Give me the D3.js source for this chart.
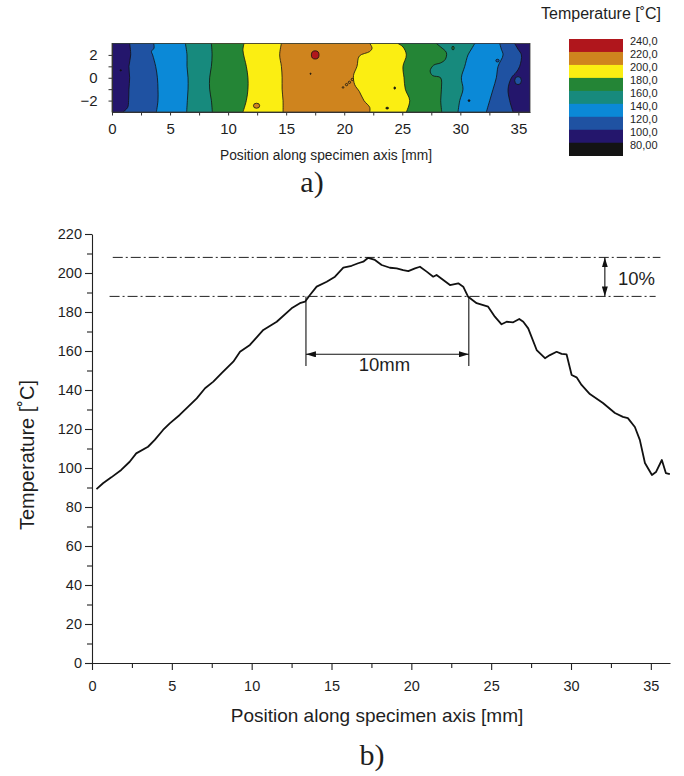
<!DOCTYPE html>
<html><head><meta charset="utf-8">
<script src="https://cdn.jsdelivr.net/npm/d3@7"></script>
<style>
body{margin:0;background:#fff}
svg{display:block}
text{font-family:"Liberation Sans",Arial,sans-serif;fill:#1e1e1e}
</style>
</head><body>
<svg id="c" width="684" height="776"></svg>
<script>
// ---------------- DATA ----------------
// Line profile (b)
const positionMm = [0.28,0.69,1.21,1.83,2.36,2.77,3.51,3.93,4.45,4.87,5.49,6.01,6.56,7.08,7.60,8.12,8.85,9.27,9.89,10.73,11.57,12.50,13.02,13.34,13.65,14.07,14.70,15.22,15.74,16.26,16.67,16.99,17.30,17.72,18.14,18.66,19.08,19.49,19.81,20.23,20.54,20.96,21.37,21.58,22.00,22.42,22.94,23.25,23.56,24.09,24.81,25.23,25.65,25.97,26.38,26.76,27.01,27.32,27.85,28.37,28.68,29.10,29.41,29.72,30.04,30.35,30.66,31.18,32.00,32.75,33.25,33.56,34.00,34.31,34.63,35.07,35.32,35.69,35.94,36.19];
const temperatureC = [89.2,92.2,95.2,99.0,103.2,107.5,110.9,114.4,119.5,122.9,127.2,131.4,135.7,140.9,144.3,148.6,154.5,159.6,163.1,170.8,175.0,181.9,184.5,185.3,188.7,193.0,195.5,198.1,202.7,203.7,205.0,205.8,207.8,206.7,204.1,202.7,202.4,201.5,201.0,202.4,203.2,200.7,198.1,199.0,196.4,193.8,194.7,193.0,187.8,184.5,182.7,177.6,173.7,175.0,174.7,176.4,175.0,171.6,160.5,156.3,157.9,159.6,158.5,158.3,147.7,146.5,142.6,137.9,133.3,128.2,126.2,125.6,121.0,114.4,102.6,96.4,97.9,104.1,97.4,96.9];
const yTicksB = [0,20,40,60,80,100,120,140,160,180,200,220];
const yMinorB = [10,30,50,70,90,110,130,150,170,190,210];
const xTicksB = [0,5,10,15,20,25,30,35];
const xMinorB = [2.5,7.5,12.5,17.5,22.5,27.5,32.5];
const peakLine = 208;        // upper dash-dot line
const tenPctLine = 188;      // lower dash-dot line
const peakLineSpan = [1.3, 35.6];
const tenPctLineSpan = [1.1, 35.3];
const widthMarks = [13.4, 23.6];   // 10 mm width
const widthArrowT = 158.3;
const widthMarkBottomT = 152.3;
const pctArrowX = 32.12;

// Contour map (a)
const xTicksA = [0,5,10,15,20,25,30,35];
const xMinorA = [2.5,7.5,12.5,17.5,22.5,27.5,32.5];
const yTicksA = [-2,0,2];
const yMinorA = [-1,1];
const legendThresholds = [80,100,120,140,160,180,200,220];
const legendColors = ["#131313","#24166c","#1f52a2","#0b89d7","#178a7d","#248536","#fbee12","#cf841e","#b0161c"];
const legendLabels = ["240,0","220,0","200,0","180,0","160,0","140,0","120,0","100,0","80,00"];
const legendBandTemps = [230,210,190,170,150,130,110,90,70];
// iso-lines, left to right, each listed top (y=3) to bottom (y=-3) as [mm, y]
const contourEdges = [
  [[1.52,3],[1.61,2],[1.46,1],[1.52,0],[1.46,-1],[1.43,-2],[1.35,-2.6],[0.95,-3]],
  [[3.59,3],[3.62,2.6],[3.40,2.3],[3.50,2],[3.76,1],[3.91,0],[3.96,-1],[3.96,-2],[3.82,-3]],
  [[6.32,3],[6.46,2],[6.46,1],[6.55,0],[6.55,-1],[6.49,-2],[6.43,-3]],
  [[8.56,3],[8.62,2],[8.56,1],[8.41,0],[8.41,-1],[8.56,-2],[8.64,-3]],
  [[11.37,3],[11.28,2.4],[11.57,1],[11.71,0],[11.71,-1],[11.57,-2],[11.28,-3]],
  [[14.59,3],[14.44,2],[14.59,1],[14.65,0],[14.65,-1],[14.73,-2],[14.73,-3]],
  [[22.2,3],[22.4,2.6],[22.2,2.3],[21.3,1.9],[21.1,1],[20.8,0.2],[20.9,-0.6],[21.3,-1.2],[21.7,-2],[22.2,-2.6],[22.2,-3]],
  [[24.63,3],[25.06,2.7],[25.35,2],[25.06,1],[25.15,0],[25.26,-1],[25.64,-2],[25.35,-3]],
  [[27.94,3],[28.3,2.7],[28.8,2.2],[28.7,1.6],[28.3,1.3],[27.7,1.1],[27.4,0.6],[27.6,0.2],[28.3,0],[28.37,-1],[28.31,-2],[28.4,-3]],
  [[31.24,3],[30.95,2.5],[30.66,2],[30.38,1],[30.09,0],[30.23,-1],[29.95,-2],[29.8,-3]],
  [[33.39,3],[33.53,2.5],[33.68,2],[33.25,1],[33.1,0],[32.82,-1],[32.53,-2],[32.24,-3]],
  [[34.68,3],[34.97,2.5],[35.26,2],[35.11,1],[34.83,0.5],[34.4,0],[34.11,-1],[34.25,-2],[34.54,-3]]
];
// temperature of each region left of edge i (last one = right of final edge)
const bandTemps = [90,110,130,150,170,190,210,190,170,150,130,110,90];
// isolated spots: [mm, y, rx(mm), ry, temp]
const contourSpots = [
  [17.5,2.0,0.33,0.36,230],[12.45,-2.45,0.27,0.22,210],[34.97,-0.25,0.29,0.35,110],
  [29.37,2.6,0.1,0.16,170],[33.2,1.5,0.14,0.12,110],
  [0.75,0.65,0.06,0.06,70],[17.1,0.35,0.05,0.05,70],[24.35,-0.9,0.07,0.1,70],[23.7,-2.66,0.12,0.08,70],
  [30.75,-2.0,0.08,0.08,70],[19.9,-0.85,0.07,0.07,210],[20.2,-0.6,0.1,0.1,210],[20.45,-0.4,0.1,0.1,210],[20.7,-0.15,0.1,0.1,210]
];

// ---------------- DRAW ----------------
const svg = d3.select("#c");
const color = d3.scaleThreshold().domain(legendThresholds).range(legendColors);

// ===== (a) contour map =====
const xA = d3.scaleLinear([0,36],[112,530]);
const yA = d3.scaleLinear([-3,3],[112,43.5]);
const gA = svg.append("g");
gA.append("rect").attr("x",xA(0)).attr("y",yA(3)).attr("width",xA(36)-xA(0)).attr("height",yA(-3)-yA(3))
  .attr("fill",color(bandTemps[bandTemps.length-1]));
const area = d3.area().curve(d3.curveCatmullRom.alpha(0.5))
  .y(d=>yA(d[1])).x0(xA(0)).x1(d=>xA(d[0]));
const edgeLine = d3.line().curve(d3.curveCatmullRom.alpha(0.5)).x(d=>xA(d[0])).y(d=>yA(d[1]));
for (let i = contourEdges.length-1; i >= 0; i--) {
  gA.append("path").attr("d",area(contourEdges[i])).attr("fill",color(bandTemps[i]));
}
gA.selectAll("path.edge").data(contourEdges).join("path").attr("class","edge")
  .attr("d",edgeLine).attr("fill","none").attr("stroke","#111").attr("stroke-width",0.8);
gA.selectAll("ellipse").data(contourSpots).join("ellipse")
  .attr("cx",d=>xA(d[0])).attr("cy",d=>yA(d[1]))
  .attr("rx",d=>xA(d[2])-xA(0)).attr("ry",d=>yA(0)-yA(d[3]))
  .attr("fill",d=>color(d[4])).attr("stroke","#111").attr("stroke-width",0.8);
gA.append("rect").attr("x",xA(0)).attr("y",yA(3)).attr("width",xA(36)-xA(0)).attr("height",yA(-3)-yA(3))
  .attr("fill","none").attr("stroke","#333").attr("stroke-width",0.8);

gA.append("g").attr("transform",`translate(0,${yA(-3)})`)
  .call(d3.axisBottom(xA).tickValues(xTicksA).tickSize(3.5).tickPadding(8).tickSizeOuter(0).tickFormat(d3.format("d")));
gA.append("g").attr("transform",`translate(0,${yA(-3)})`)
  .call(d3.axisBottom(xA).tickValues(xMinorA).tickSize(3.5).tickFormat("").tickSizeOuter(0)).select(".domain").remove();
gA.append("g").attr("transform",`translate(${xA(0)},0)`)
  .call(d3.axisLeft(yA).tickValues(yTicksA).tickSize(3.5).tickPadding(11).tickSizeOuter(0).tickFormat(d3.format("d")));
gA.append("g").attr("transform",`translate(${xA(0)},0)`)
  .call(d3.axisLeft(yA).tickValues(yMinorA).tickSize(3.5).tickFormat("").tickSizeOuter(0)).select(".domain").remove();
gA.selectAll(".tick text").attr("font-size",15).attr("font-family","Liberation Sans, Arial, sans-serif").attr("fill","#222");
gA.selectAll(".domain, .tick line").attr("stroke","#333");
gA.append("text").attr("x",(xA(0)+xA(36))/2 + 5).attr("y",160).attr("text-anchor","middle")
  .attr("font-size",15.5).attr("textLength",212).attr("lengthAdjust","spacingAndGlyphs")
  .text("Position along specimen axis [mm]");
svg.append("text").attr("x",312).attr("y",192).attr("text-anchor","middle")
  .style("font-family","'Liberation Serif','DejaVu Serif',serif").attr("font-size",30).text("a)");

// legend
const gL = svg.append("g");
gL.append("text").attr("x",541).attr("y",19).attr("font-size",16).text("Temperature [˚C]");
const legY = d3.scaleBand().domain(legendLabels).range([39,155.7]).padding(0);
gL.selectAll("rect").data(legendLabels).join("rect")
  .attr("x",569).attr("y",d=>legY(d)).attr("width",54).attr("height",legY.bandwidth()+0.3)
  .attr("fill",(d,i)=>color(legendBandTemps[i]));
gL.selectAll("text.lab").data(legendLabels).join("text").attr("class","lab")
  .attr("x",630).attr("y",d=>legY(d)+2).attr("dy","0.35em").attr("font-size",11).text(d=>d);

// ===== (b) line profile =====
const xB = d3.scaleLinear([0,36.2],[92,670]);
const yB = d3.scaleLinear([0,220],[663,234]);
const gB = svg.append("g");
gB.append("g").attr("transform","translate(0,663)")
  .call(d3.axisBottom(xB).tickValues(xTicksB).tickSize(7).tickPadding(11).tickSizeOuter(0).tickFormat(d3.format("d")));
gB.append("g").attr("transform","translate(0,663)")
  .call(d3.axisBottom(xB).tickValues(xMinorB).tickSize(5).tickFormat("").tickSizeOuter(0)).select(".domain").remove();
gB.append("g").attr("transform","translate(92,0)")
  .call(d3.axisLeft(yB).tickValues(yTicksB).tickSize(7).tickPadding(3).tickSizeOuter(0).tickFormat(d3.format("d")));
gB.append("g").attr("transform","translate(92,0)")
  .call(d3.axisLeft(yB).tickValues(yMinorB).tickSize(5).tickFormat("").tickSizeOuter(0)).select(".domain").remove();
gB.selectAll(".tick text").attr("font-size",14.5).attr("font-family","Liberation Sans, Arial, sans-serif").attr("fill","#222");
gB.selectAll(".domain, .tick line").attr("stroke","#222").attr("stroke-width",1.1);

gB.append("text").attr("x",(xB(0)+xB(36.2))/2-4).attr("y",722).attr("text-anchor","middle").attr("font-size",19)
  .text("Position along specimen axis [mm]");
gB.append("text").attr("transform",`translate(34,455) rotate(-90)`).attr("text-anchor","middle").attr("font-size",20)
  .text("Temperature [˚C]");
svg.append("text").attr("x",372).attr("y",765).attr("text-anchor","middle")
  .style("font-family","'Liberation Serif','DejaVu Serif',serif").attr("font-size",30).text("b)");

// dash-dot reference lines
const dd = "10,3,2,3";
gB.append("line").attr("x1",xB(peakLineSpan[0])).attr("x2",xB(peakLineSpan[1])).attr("y1",yB(peakLine)).attr("y2",yB(peakLine))
  .attr("stroke","#222").attr("stroke-width",1).attr("stroke-dasharray",dd);
gB.append("line").attr("x1",xB(tenPctLineSpan[0])).attr("x2",xB(tenPctLineSpan[1])).attr("y1",yB(tenPctLine)).attr("y2",yB(tenPctLine))
  .attr("stroke","#222").attr("stroke-width",1).attr("stroke-dasharray",dd);

// profile line
const line = d3.line().x((d,i)=>xB(positionMm[i])).y(d=>yB(d));
gB.append("path").datum(temperatureC).attr("d",line).attr("fill","none").attr("stroke","#111").attr("stroke-width",1.8).attr("stroke-linejoin","round");

// width markers
widthMarks.forEach(m=>{
  gB.append("line").attr("x1",xB(m)).attr("x2",xB(m)).attr("y1",yB(tenPctLine)).attr("y2",yB(widthMarkBottomT))
    .attr("stroke","#111").attr("stroke-width",1.1);
});
const defs = svg.append("defs");
defs.append("marker").attr("id","ah").attr("viewBox","0 0 10 6").attr("refX",10).attr("refY",3)
  .attr("markerWidth",10).attr("markerHeight",6).attr("markerUnits","userSpaceOnUse").attr("orient","auto-start-reverse")
  .append("path").attr("d","M0,0L10,3L0,6Z").attr("fill","#111");
gB.append("line").attr("x1",xB(widthMarks[0])).attr("x2",xB(widthMarks[1])).attr("y1",yB(widthArrowT)).attr("y2",yB(widthArrowT))
  .attr("stroke","#111").attr("stroke-width",1.1).attr("marker-start","url(#ah)").attr("marker-end","url(#ah)");
gB.append("text").attr("x",(xB(widthMarks[0])+xB(widthMarks[1]))/2-3).attr("y",371).attr("text-anchor","middle").attr("font-size",18.5).text("10mm");
gB.append("line").attr("x1",xB(pctArrowX)).attr("x2",xB(pctArrowX)).attr("y1",yB(peakLine)).attr("y2",yB(tenPctLine))
  .attr("stroke","#111").attr("stroke-width",1.1).attr("marker-start","url(#ah)").attr("marker-end","url(#ah)");
gB.append("text").attr("x",618).attr("y",285).attr("font-size",18.5).text("10%");
</script>
</body></html>
